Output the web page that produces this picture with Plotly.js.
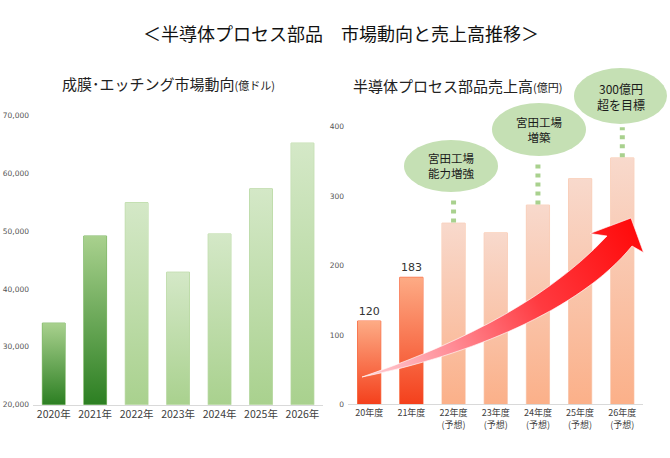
<!DOCTYPE html>
<html><head><meta charset="utf-8">
<script src="https://cdn.plot.ly/plotly-3.0.1.min.js"></script>
<style>html,body{margin:0;padding:0;background:#fff;} #chart{width:670px;height:458px;}</style>
</head><body><div id="chart"></div>
<script>
// ---- data ----
const marketYears = ['2020年','2021年','2022年','2023年','2024年','2025年','2026年'];
const marketValues = [34100, 49150, 54900, 42900, 49500, 57300, 65200];
const marketTicks = [20000, 30000, 40000, 50000, 60000, 70000];

const salesYears = ['20年度','21年度','22年度','23年度','24年度','25年度','26年度'];
const salesForecast = [false, false, true, true, true, true, true];
const salesValues = [120, 183, 261, 247, 287, 325, 355];
const salesTicks = [0, 100, 200, 300, 400];

const calloutIndex = [2, 4, 6];
const calloutText = ['宮田工場<br>能力増強', '宮田工場<br>増築', '300億円<br>超を目標'];

// ---- styles ----
const CJK = '"Noto Sans CJK JP", "Noto Sans", sans-serif';
const NUM = '"DejaVu Sans", sans-serif';
const BARW = 0.55;
const marketColors = marketValues.map((v, i) => i < 2 ? '#66a853' : '#bddba8');
const marketLine = marketValues.map((v, i) => i < 2 ? '#7fb866' : '#b9d9a3');
const marketGrad = marketValues.map((v, i) => i < 2 ? ['#a9d18e', '#2c7f22'] : ['#d4e8c7', '#a9d18e']);
const salesColors = salesValues.map((v, i) => salesForecast[i] ? '#f9c4a8' : '#f8714b');
const salesLine = salesValues.map((v, i) => salesForecast[i] ? '#f9cdb6' : '#f86a40');
const salesGrad = salesValues.map((v, i) => salesForecast[i] ? ['#f8d9cc', '#fbb089'] : ['#fdab85', '#f4401c']);
const salesCats = salesYears.map((y, i) => salesForecast[i] ? y + '<br><span style="font-size:9px">(予想)</span>' : y);
const salesLabels = salesValues.map((v, i) => salesForecast[i] ? '' : String(v));

const W = 670, H = 458;

// callout ellipses (page pixels: cx, cy, rx, ry) and connector tops (right-axis units)
const ellipsePx = [[451, 166, 47, 26], [539, 129.5, 47, 26.5], [620.5, 96, 46.5, 28]];
const connectorTop = [301, 352, 399];

function gradSvg(top, bottom) {
  const s = "<svg xmlns='http://www.w3.org/2000/svg' width='20' height='200' viewBox='0 0 20 200' preserveAspectRatio='none'>" +
    "<defs><linearGradient id='g' x1='0' y1='0' x2='0' y2='1'>" +
    "<stop offset='0' stop-color='" + top + "'/><stop offset='1' stop-color='" + bottom + "'/>" +
    "</linearGradient></defs><rect x='0' y='0' width='20' height='200' fill='url(#g)'/></svg>";
  return 'data:image/svg+xml;charset=utf-8,' + encodeURIComponent(s);
}

// decorative rising arrow, drawn in page pixels then placed on paper
const arrowBox = [352, 208, 300, 180]; // x, y, w, h in px
function arrowSvg() {
  const d = 'M362,377 C440,350 540,308 607,236 L590,233.5 L631,218 L643.5,252.5 L632,246 C580,310 470,355 362,377 Z';
  const s = "<svg xmlns='http://www.w3.org/2000/svg' width='" + arrowBox[2] + "' height='" + arrowBox[3] +
    "' viewBox='" + arrowBox.join(' ') + "' preserveAspectRatio='none'>" +
    "<defs><linearGradient id='a' gradientUnits='userSpaceOnUse' x1='362' y1='377' x2='640' y2='222'>" +
    "<stop offset='0' stop-color='#ffd0d6'/><stop offset='0.3' stop-color='#ff8a94'/>" +
    "<stop offset='0.6' stop-color='#ff3a40'/><stop offset='1' stop-color='#ff0808'/>" +
    "</linearGradient></defs><path d='" + d + "' fill='url(#a)' stroke='#ffffff' stroke-width='0.8' stroke-opacity='0.8'/></svg>";
  return 'data:image/svg+xml;charset=utf-8,' + encodeURIComponent(s);
}

const traces = [
  {
    type: 'bar', x: marketYears, y: marketValues, xaxis: 'x', yaxis: 'y',
    marker: {color: marketColors, line: {color: marketLine, width: 1}},
    hoverinfo: 'x+y', showlegend: false
  },
  {
    type: 'bar', x: salesCats, y: salesValues, xaxis: 'x2', yaxis: 'y2',
    marker: {color: salesColors, line: {color: salesLine, width: 1}},
    text: salesLabels, textposition: 'outside', cliponaxis: false,
    textfont: {family: NUM, size: 11, color: '#333'},
    hoverinfo: 'x+y', showlegend: false
  }
];

const images = [];
marketValues.forEach((v, i) => {
  images.push({
    source: gradSvg(marketGrad[i][0], marketGrad[i][1]), xref: 'x', yref: 'y',
    x: i - BARW / 2, y: v, sizex: BARW, sizey: v - 20000,
    xanchor: 'left', yanchor: 'top', sizing: 'stretch', layer: 'above'
  });
});
salesValues.forEach((v, i) => {
  images.push({
    source: gradSvg(salesGrad[i][0], salesGrad[i][1]), xref: 'x2', yref: 'y2',
    x: i - BARW / 2, y: v, sizex: BARW, sizey: v,
    xanchor: 'left', yanchor: 'top', sizing: 'stretch', layer: 'above'
  });
});
images.push({
  source: arrowSvg(), xref: 'paper', yref: 'paper',
  x: arrowBox[0] / W, y: (H - arrowBox[1]) / H, sizex: arrowBox[2] / W, sizey: arrowBox[3] / H,
  xanchor: 'left', yanchor: 'top', sizing: 'stretch', layer: 'above'
});

const shapes = [];
const annotations = [];

calloutIndex.forEach((idx, k) => {
  const e = ellipsePx[k];
  shapes.push({
    type: 'line', xref: 'x2', yref: 'y2', x0: idx, x1: idx,
    y0: salesValues[idx] + 1, y1: connectorTop[k],
    line: {color: '#a9d18e', width: 5, dash: '4px,5px'}, layer: 'above'
  });
  shapes.push({
    type: 'circle', xref: 'paper', yref: 'paper',
    x0: (e[0] - e[2]) / W, x1: (e[0] + e[2]) / W,
    y0: (H - (e[1] + e[3])) / H, y1: (H - (e[1] - e[3])) / H,
    fillcolor: '#c5e0b4', line: {width: 0}, layer: 'above'
  });
  annotations.push({
    xref: 'paper', yref: 'paper', x: e[0] / W, y: (H - e[1]) / H,
    xanchor: 'center', yanchor: 'middle',
    text: calloutText[k], showarrow: false,
    font: {family: CJK, size: k === 2 ? 12 : 11.5, color: '#1a1a1a'},
    align: 'center'
  });
});

annotations.push({
  xref: 'paper', yref: 'paper', x: 168 / W, y: (H - 84) / H, xanchor: 'center', yanchor: 'middle',
  showarrow: false,
  text: '成膜･エッチング市場動向<span style="font-size:11px">(億ドル)</span>',
  font: {family: CJK, size: 15, color: '#222'}
});
annotations.push({
  xref: 'paper', yref: 'paper', x: 458 / W, y: (H - 85) / H, xanchor: 'center', yanchor: 'middle',
  showarrow: false,
  text: '半導体プロセス部品売上高<span style="font-size:11px">(億円)</span>',
  font: {family: CJK, size: 15, color: '#222'}
});

const layout = {
  width: W, height: H,
  margin: {l: 0, r: 0, t: 0, b: 0},
  paper_bgcolor: '#fff', plot_bgcolor: 'rgba(0,0,0,0)',
  title: {
    text: '＜半導体プロセス部品　市場動向と売上高推移＞',
    x: 341 / W, xanchor: 'center', y: (H - 35) / H, yanchor: 'middle',
    font: {family: CJK, size: 18, color: '#111'}
  },
  bargap: 1 - BARW,
  showlegend: false,
  xaxis: {
    domain: [33 / W, 323.2 / W], anchor: 'y', type: 'category', range: [-0.5, 6.5],
    showline: true, linecolor: '#d9d9d9', linewidth: 1, ticks: '',
    tickfont: {family: CJK, size: 10.5, color: '#404040'}, fixedrange: true
  },
  yaxis: {
    domain: [(H - 404.7) / H, (H - 115.3) / H], anchor: 'x',
    range: [20000, 70000], tickvals: marketTicks, tickformat: ',',
    showgrid: false, zeroline: false, showline: false, ticks: '',
    ticklabelstandoff: 3,
    tickfont: {family: NUM, size: 7.5, color: '#555'}, fixedrange: true
  },
  xaxis2: {
    domain: [348.1 / W, 643.4 / W], anchor: 'y2', type: 'category', range: [-0.5, 6.5],
    showline: true, linecolor: '#d9d9d9', linewidth: 1, ticks: '',
    tickfont: {family: CJK, size: 9, color: '#404040'}, fixedrange: true
  },
  yaxis2: {
    domain: [(H - 404.3) / H, 0.875], anchor: 'x2',
    range: [0, 500], tickvals: salesTicks,
    showgrid: false, zeroline: false, showline: false, ticks: '',
    ticklabelstandoff: 3,
    tickfont: {family: NUM, size: 7.5, color: '#555'}, fixedrange: true
  },
  images: images,
  shapes: shapes,
  annotations: annotations
};

Plotly.newPlot('chart', traces, layout, {displayModeBar: false, staticPlot: true});
</script>
</body></html>
